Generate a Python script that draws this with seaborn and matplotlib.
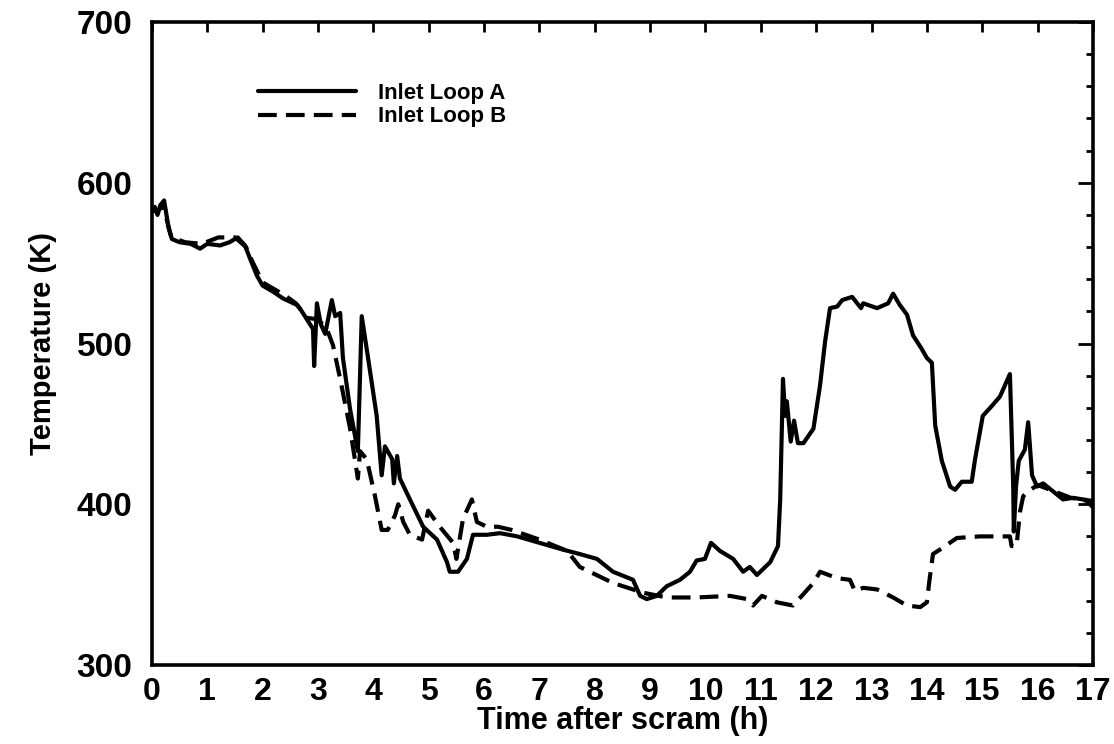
import numpy as np
import pandas as pd
import seaborn as sns
import matplotlib.pyplot as plt
from matplotlib.ticker import MultipleLocator

# Inlet Loop A (solid line)
loop_a_time = [0.0, 0.05, 0.1, 0.15, 0.22, 0.3, 0.36, 0.5, 0.7, 0.87, 1.0, 1.23, 1.4, 1.55,
               1.68, 1.77, 1.9, 2.0, 2.2, 2.37, 2.62, 2.67, 2.8, 2.91, 2.93, 2.98, 3.05, 3.13,
               3.25, 3.31, 3.4, 3.45, 3.58, 3.72, 3.79, 3.9, 4.06, 4.15, 4.21, 4.34, 4.37,
               4.43, 4.48, 4.66, 4.9, 5.15, 5.33, 5.38, 5.53, 5.69, 5.8, 6.05, 6.29, 6.6,
               7.0, 7.4, 7.73, 8.04, 8.33, 8.69, 8.82, 8.94, 9.12, 9.3, 9.54, 9.72, 9.84,
               9.99, 10.1, 10.26, 10.5, 10.68, 10.8, 10.93, 11.17, 11.31, 11.35, 11.4, 11.44,
               11.47, 11.54, 11.6, 11.67, 11.77, 11.95, 12.07, 12.16, 12.25, 12.38, 12.47,
               12.65, 12.81, 12.85, 13.1, 13.3, 13.39, 13.51, 13.64, 13.75, 13.9, 14.0,
               14.09, 14.15, 14.27, 14.42, 14.51, 14.63, 14.81, 14.87, 15.01, 15.17, 15.32,
               15.5, 15.56, 15.57, 15.61, 15.66, 15.77, 15.83, 15.9, 15.99, 16.1, 16.28,
               16.46, 16.64, 16.82, 17.0]
loop_a_temp = [583, 585, 580, 586, 589, 572, 565, 563, 562, 559, 562, 561, 563, 566,
               561, 553, 542, 536, 532, 528, 524, 522, 515, 509, 486, 525, 512, 506,
               527, 517, 519, 491, 459, 433, 517, 492, 455, 418, 436, 428, 413,
               430, 416, 403, 386, 378, 364, 358, 358, 366, 381, 381, 382, 380,
               376, 372, 369, 366, 358, 353, 343, 341, 343, 349, 353, 358, 365,
               366, 376, 371, 366, 358, 361, 356, 364, 374, 403, 478, 455,
               464, 439, 452, 438, 438, 447, 474, 501, 522, 523, 527,
               529, 522, 525, 522, 525, 531, 524, 518, 505, 497, 491,
               488, 449, 427, 411, 409, 414, 414, 428, 455, 461, 467,
               481, 411, 383, 411, 427, 434, 451, 418, 411, 413, 408,
               403, 404, 403, 402]

# Inlet Loop B (dashed line)
loop_b_time = [0.0, 0.1, 0.2, 0.35, 0.6, 0.9, 1.2, 1.5, 1.7, 1.8, 2.0, 2.2, 2.4, 2.6,
               2.8, 3.0, 3.16, 3.27, 3.4, 3.58, 3.72, 3.76, 3.88, 4.03, 4.15, 4.26, 4.39,
               4.45, 4.54, 4.66, 4.88, 4.99, 5.2, 5.44, 5.5, 5.62, 5.78, 5.87, 6.05, 6.25,
               6.5, 7.0, 7.5, 7.73, 8.33, 8.87, 9.3, 9.84, 10.44, 10.75, 10.86, 11.02,
               11.29, 11.58, 11.74, 11.95, 12.07, 12.38, 12.61, 12.7, 12.85, 13.1, 13.39,
               13.64, 13.88, 14.0, 14.04, 14.11, 14.29, 14.54, 14.96, 15.32, 15.5, 15.53,
               15.62, 15.68, 15.74, 15.83, 16.0, 16.3, 16.6, 16.9, 17.0]
loop_b_temp = [583, 582, 586, 566, 563, 562, 566, 566, 560, 552, 538, 534, 530, 525,
               516, 515, 509, 499, 478, 447, 416, 433, 428, 405, 384, 384, 393,
               400, 389, 381, 378, 396, 386, 376, 366, 391, 403, 389, 386, 386,
               384, 378, 371, 361, 351, 345, 342, 342, 343, 341, 337, 343,
               339, 337, 343, 351, 358, 354, 353, 346, 348, 347, 342,
               337, 336, 339, 351, 369, 373, 379, 380, 380, 380, 374,
               374, 395, 405, 408, 412, 408, 404, 402, 398]

x_ticks = list(range(0, 18))
y_ticks = [300, 400, 500, 600, 700]

sns.set_style("white")
plt.rcParams['font.family'] = ['Liberation Sans', 'DejaVu Sans']
plt.rcParams['font.weight'] = 'bold'
plt.rcParams['text.color'] = 'black'
plt.rcParams['axes.labelcolor'] = 'black'

fig = plt.figure(figsize=(11.14, 7.44), dpi=100)
ax = fig.add_axes([0.1364, 0.1062, 0.8447, 0.8642])

sns.lineplot(x=loop_a_time, y=loop_a_temp, ax=ax, color='black', linewidth=3.0,
             estimator=None, sort=False, label='Inlet Loop A')
sns.lineplot(x=loop_b_time, y=loop_b_temp, ax=ax, color='black', linewidth=3.0,
             estimator=None, sort=False, linestyle=(0, (4.5, 2.2)), label='Inlet Loop B')

ax.set_xlim(0, 17)
ax.set_ylim(300, 700)
ax.set_xticks(x_ticks)
ax.set_yticks(y_ticks)
ax.yaxis.set_minor_locator(MultipleLocator(20))
ax.tick_params(axis='both', which='both', direction='in', top=True, right=True,
               width=2, colors='black')
ax.tick_params(axis='x', which='major', length=7, pad=9, labelsize=23)
ax.tick_params(axis='y', which='major', length=11, pad=14, labelsize=24)
ax.tick_params(axis='y', which='minor', length=5)
for spine in ax.spines.values():
    spine.set_linewidth(2.6)
    spine.set_color('black')

ax.set_xlabel('Time after scram (h)', fontsize=22, fontweight='bold', labelpad=-1,
              color='black')
ax.set_ylabel('Temperature (K)', fontsize=21, fontweight='bold', labelpad=14,
              color='black')

leg = ax.legend(loc='upper left', bbox_to_anchor=(0.113, 0.905), frameon=False,
                fontsize=16, handlelength=4.4, handletextpad=1.0, labelspacing=0.1,
                borderpad=0, borderaxespad=0)
for text in leg.get_texts():
    text.set_color('black')

plt.savefig('out.png', dpi=100)
plt.close()
